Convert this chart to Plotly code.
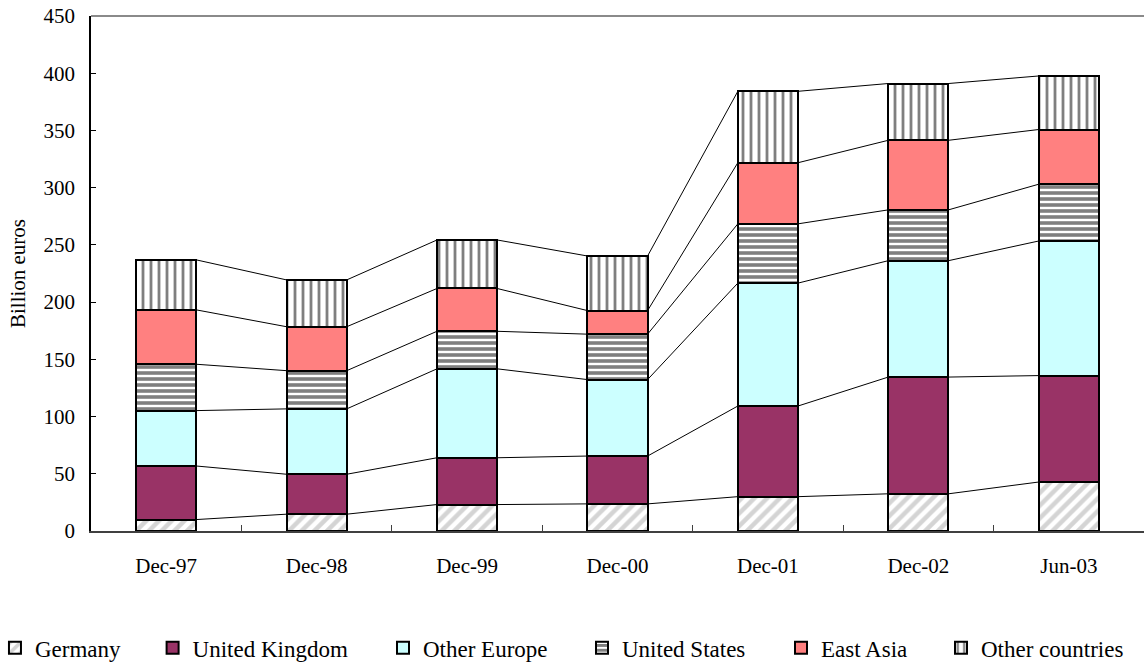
import plotly.graph_objects as go
import numpy as np

# Reporting dates
periods = ["Dec-97", "Dec-98", "Dec-99", "Dec-00", "Dec-01", "Dec-02", "Jun-03"]

# Holdings by counterpart region (billion euros)
germany = [10.0, 14.7, 23.1, 23.7, 30.0, 32.5, 42.8]
united_kingdom = [46.8, 34.9, 40.9, 41.8, 79.2, 102.0, 93.0]
other_europe = [48.4, 57.1, 77.7, 66.8, 107.4, 101.7, 117.6]
united_states = [40.5, 33.4, 32.8, 39.7, 51.8, 44.4, 49.6]
east_asia = [47.5, 38.4, 37.4, 20.6, 53.4, 60.8, 47.8]
other_countries = [43.7, 40.9, 42.4, 47.7, 62.4, 49.6, 46.8]

y_ticks = [0, 50, 100, 150, 200, 250, 300, 350, 400, 450]

series = [
    ("Germany", germany, dict(bgcolor="white", shape="/", fgcolor="#aaaaaa", size=9, solidity=0.5)),
    ("United Kingdom", united_kingdom, None),
    ("Other Europe", other_europe, None),
    ("United States", united_states, dict(bgcolor="white", shape="-", fgcolor="black", size=6, solidity=0.6)),
    ("East Asia", east_asia, None),
    ("Other countries", other_countries, dict(bgcolor="white", shape="|", fgcolor="black", size=8, solidity=0.35)),
]
solid_colors = {
    "United Kingdom": "#993366",
    "Other Europe": "#CCFFFF",
    "East Asia": "#FF8080",
}
# each legend entry sits in its own legend box along the bottom
legend_x = [-0.0912, 0.0585, 0.2773, 0.4663, 0.6553, 0.8072]

BAR_W = 0.4
FONT = "Liberation Serif"
xs = np.arange(len(periods))

fig = go.Figure()

# Stacked bars
for k, (name, vals, pat) in enumerate(series):
    marker = dict(line=dict(color="black", width=2))
    if pat is not None:
        marker["color"] = "white"
        marker["pattern"] = pat
    else:
        marker["color"] = solid_colors[name]
    legend_id = "legend" if k == 0 else f"legend{k + 1}"
    fig.add_trace(go.Bar(x=xs, y=vals, name=name, width=BAR_W, marker=marker, legend=legend_id))

# Connector lines linking the top of each segment across neighbouring bars
cum = np.zeros(len(periods))
for name, vals, pat in series:
    cum = cum + np.array(vals)
    lx, ly = [], []
    for i in range(len(periods) - 1):
        lx += [xs[i] + BAR_W / 2, xs[i + 1] - BAR_W / 2, None]
        ly += [cum[i], cum[i + 1], None]
    fig.add_trace(go.Scatter(x=lx, y=ly, mode="lines", line=dict(color="black", width=1),
                             showlegend=False, hoverinfo="skip"))

# Secondary x axis carrying the category-boundary tick marks
fig.add_trace(go.Scatter(x=[None], y=[None], xaxis="x2", showlegend=False, hoverinfo="skip"))

legend_common = dict(orientation="h", xanchor="left", y=-0.227, yanchor="middle",
                     font=dict(family=FONT, size=23, color="black"),
                     itemwidth=30, bgcolor="rgba(0,0,0,0)")
legends = {}
for k, lx in enumerate(legend_x):
    key = "legend" if k == 0 else f"legend{k + 1}"
    legends[key] = dict(legend_common, x=lx)

fig.update_layout(
    barmode="stack",
    width=1144, height=664,
    margin=dict(l=91, r=0, t=16, b=133, autoexpand=False),
    paper_bgcolor="white", plot_bgcolor="white",
    font=dict(family=FONT, size=21, color="black"),
    showlegend=True,
    xaxis=dict(
        range=[-0.5, len(periods) - 0.5],
        tickvals=list(xs), ticktext=periods,
        ticks="", showgrid=False, zeroline=False,
        showline=True, linecolor="#404040", linewidth=1.5,
        tickfont=dict(family=FONT, size=21),
        ticklabelstandoff=15,
    ),
    xaxis2=dict(
        overlaying="x", anchor="y", side="bottom",
        range=[-0.5, len(periods) - 0.5],
        tickvals=[i + 0.5 for i in range(len(periods) - 1)],
        ticks="inside", ticklen=6, tickcolor="#404040", tickwidth=1,
        showticklabels=False, showgrid=False, zeroline=False, showline=False,
    ),
    yaxis=dict(
        range=[0, 450], tickvals=y_ticks,
        ticks="inside", ticklen=5, tickcolor="black",
        showgrid=False, zeroline=False,
        showline=True, linecolor="black", linewidth=1.5,
        tickfont=dict(family=FONT, size=21),
        ticklabelstandoff=10,
        title=dict(text="Billion euros", font=dict(family=FONT, size=21), standoff=12),
    ),
    shapes=[dict(type="line", xref="paper", yref="paper", x0=0, x1=1, y0=1, y1=1,
                 line=dict(color="#8a8a8a", width=2))],
    **legends,
)

fig.write_html("out.html")
